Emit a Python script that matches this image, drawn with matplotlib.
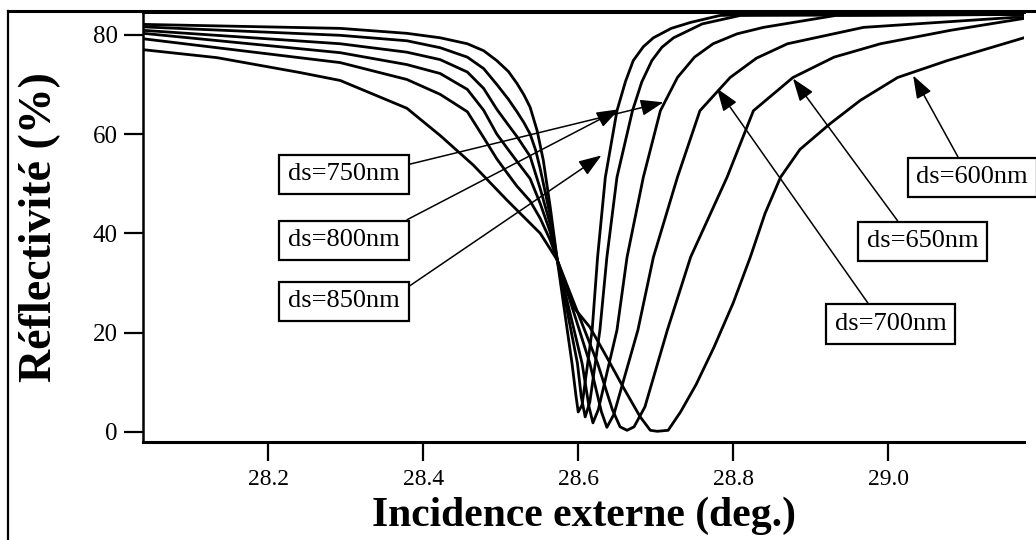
import matplotlib
matplotlib.use('Agg')
from matplotlib import pyplot as plt
from matplotlib.lines import Line2D

# reflectivity curves, one per spacer thickness
x_850 = [28.039, 28.293, 28.379, 28.422, 28.457, 28.478, 28.495, 28.510, 28.521, 28.530, 28.538, 28.547,
         28.555, 28.564, 28.573, 28.592, 28.597, 28.600, 28.605, 28.618, 28.625, 28.635, 28.650, 28.661,
         28.671, 28.684, 28.697, 28.720, 28.745, 28.783, 28.886, 29.175]
y_850 = [82.1, 81.3, 80.3, 79.4, 78.2, 76.8, 74.8, 72.6, 70.2, 67.9, 65.4, 60.7,
         54.7, 45.2, 34.6, 13.8, 7.4, 4.0, 5.4, 20.5, 35.2, 51.3, 64.7, 70.6,
         74.8, 77.6, 79.4, 81.3, 82.5, 83.9, 84.3, 84.3]

x_800 = [28.039, 28.293, 28.379, 28.422, 28.457, 28.478, 28.495, 28.510, 28.521, 28.530, 28.538, 28.545,
         28.551, 28.564, 28.573, 28.599, 28.604, 28.609, 28.615, 28.628, 28.637, 28.650, 28.670, 28.682,
         28.695, 28.708, 28.723, 28.760, 28.809, 29.175]
y_800 = [81.6, 79.9, 78.8, 77.4, 75.5, 73.2, 70.0, 67.0, 64.5, 62.3, 60.0, 56.8,
         53.0, 43.5, 34.6, 13.8, 7.0, 3.0, 6.0, 20.5, 35.2, 51.3, 64.7, 70.5,
         74.8, 77.5, 79.4, 82.2, 83.9, 84.1]

x_750 = [28.039, 28.293, 28.379, 28.422, 28.457, 28.478, 28.495, 28.510, 28.521, 28.538, 28.551, 28.564,
         28.573, 28.605, 28.614, 28.619, 28.626, 28.650, 28.663, 28.684, 28.706, 28.728, 28.750, 28.774,
         28.805, 28.839, 28.932, 29.175]
y_750 = [80.9, 78.2, 76.5, 75.0, 72.5, 69.2, 65.0, 61.8, 59.5, 55.5, 49.0, 41.8,
         34.6, 13.8, 5.0, 1.8, 4.5, 20.5, 35.2, 51.3, 64.7, 71.4, 75.5, 78.2,
         80.2, 81.5, 83.9, 84.1]

x_700 = [28.039, 28.293, 28.379, 28.422, 28.457, 28.478, 28.495, 28.510, 28.521, 28.538, 28.551, 28.564,
         28.573, 28.615, 28.630, 28.637, 28.646, 28.677, 28.697, 28.728, 28.757, 28.796, 28.830, 28.870,
         28.968, 29.161, 29.175]
y_700 = [80.3, 76.4, 74.0, 72.2, 69.0, 64.8, 60.0, 56.8, 54.5, 51.0, 46.0, 40.2,
         34.6, 13.8, 4.0, 0.9, 3.5, 20.5, 35.2, 51.3, 64.7, 71.4, 75.3, 78.2,
         81.5, 83.5, 83.5]

x_650 = [28.039, 28.293, 28.379, 28.422, 28.457, 28.478, 28.495, 28.510, 28.521, 28.538, 28.551, 28.564,
         28.573, 28.625, 28.644, 28.654, 28.663, 28.672, 28.686, 28.715, 28.745, 28.792, 28.826, 28.877,
         28.930, 28.990, 29.080, 29.175]
y_650 = [79.2, 74.4, 71.0, 68.0, 64.5, 59.3, 55.0, 51.8, 49.5, 46.5, 43.0, 38.6,
         34.6, 13.8, 4.5, 1.0, 0.3, 1.0, 5.0, 20.5, 35.2, 51.3, 64.7, 71.4,
         75.5, 78.2, 80.9, 83.3]

x_600 = [28.039, 28.134, 28.241, 28.293, 28.379, 28.422, 28.465, 28.508, 28.551, 28.573, 28.594, 28.615,
         28.637, 28.658, 28.680, 28.693, 28.702, 28.716, 28.732, 28.752, 28.775, 28.800, 28.822, 28.841,
         28.861, 28.886, 28.925, 28.964, 29.012, 29.076, 29.175]
y_600 = [77.0, 75.4, 72.4, 70.8, 65.2, 59.7, 53.7, 46.7, 40.0, 34.6, 25.1, 21.1,
         15.0, 9.0, 3.0, 0.3, 0.1, 0.3, 4.0, 9.5, 17.0, 26.0, 35.2, 44.0,
         51.3, 56.9, 62.1, 66.8, 71.4, 74.8, 79.4]

curves = [(x_850, y_850), (x_800, y_800), (x_750, y_750),
          (x_700, y_700), (x_650, y_650), (x_600, y_600)]

x_ticks = [28.2, 28.4, 28.6, 28.8, 29.0]
x_ticklabels = ["28.2", "28.4", "28.6", "28.8", "29.0"]
y_ticks = [0, 20, 40, 60, 80]

# label text, arrow tip (data), box centre (data), where the arrow leaves the box
labels = [
    ("ds=750nm", (28.710, 66.4), (28.298, 51.9), (1.0, 0.85)),
    ("ds=800nm", (28.653, 65.0), (28.298, 38.6), (0.9, 1.0)),
    ("ds=850nm", (28.630, 55.7), (28.298, 26.3), (1.0, 0.9)),
    ("ds=600nm", (29.032, 71.8), (29.108, 51.3), (0.42, 1.0)),
    ("ds=650nm", (28.877, 71.2), (29.044, 38.4), (0.34, 1.0)),
    ("ds=700nm", (28.779, 69.2), (29.003, 21.7), (0.36, 1.0)),
]

serif = ['Liberation Serif', 'DejaVu Serif']
plt.rcParams['font.family'] = serif

fig = plt.figure(figsize=(10.36, 5.40), dpi=100)
ax = fig.add_axes([0.1383, 0.182, 0.8501, 0.7958])

for xs, ys in curves:
    ax.plot(xs, ys, color='black', lw=2.0, solid_joinstyle='round')

ax.set_xlim(28.039, 29.175)
ax.set_ylim(-2.0, 84.6)
ax.set_xticks(x_ticks)
ax.set_xticklabels(x_ticklabels)
ax.set_yticks(y_ticks)
ax.tick_params(axis='both', direction='out', length=13.5, width=1.6, labelsize=18, pad=5)
ax.tick_params(axis='x', labelsize=17, pad=6)

ax.spines['right'].set_visible(False)
ax.spines['left'].set_linewidth(1.8)
ax.spines['bottom'].set_linewidth(2.2)
ax.spines['top'].set_linewidth(2.2)

ax.set_xlabel("Incidence externe (deg.)", fontsize=30, fontweight='bold')
ax.xaxis.set_label_coords(0.5, -0.128)
ax.set_ylabel("Réflectivité (%)", fontsize=33, fontweight='bold')
ax.yaxis.set_label_coords(-0.093, 0.50)

for text, tip, centre, rp in labels:
    ax.annotate(text, xy=tip, xytext=centre, xycoords='data', textcoords='data',
                ha='center', va='center', fontsize=19,
                bbox=dict(boxstyle='square,pad=0.33', fc='white', ec='black', lw=1.6),
                arrowprops=dict(arrowstyle='-|>,head_length=0.7,head_width=0.25',
                                mutation_scale=20, color='black', lw=1.1,
                                shrinkA=0, shrinkB=0, relpos=rp))

# outer frame of the scanned figure
fig.add_artist(Line2D([8 / 1036, 8 / 1036], [0, 1 - 11 / 540], transform=fig.transFigure,
                      color='black', lw=1.6))
fig.add_artist(Line2D([8 / 1036, 1], [1 - 11 / 540, 1 - 11 / 540], transform=fig.transFigure,
                      color='black', lw=2.2))

fig.savefig("out.png", dpi=100)
